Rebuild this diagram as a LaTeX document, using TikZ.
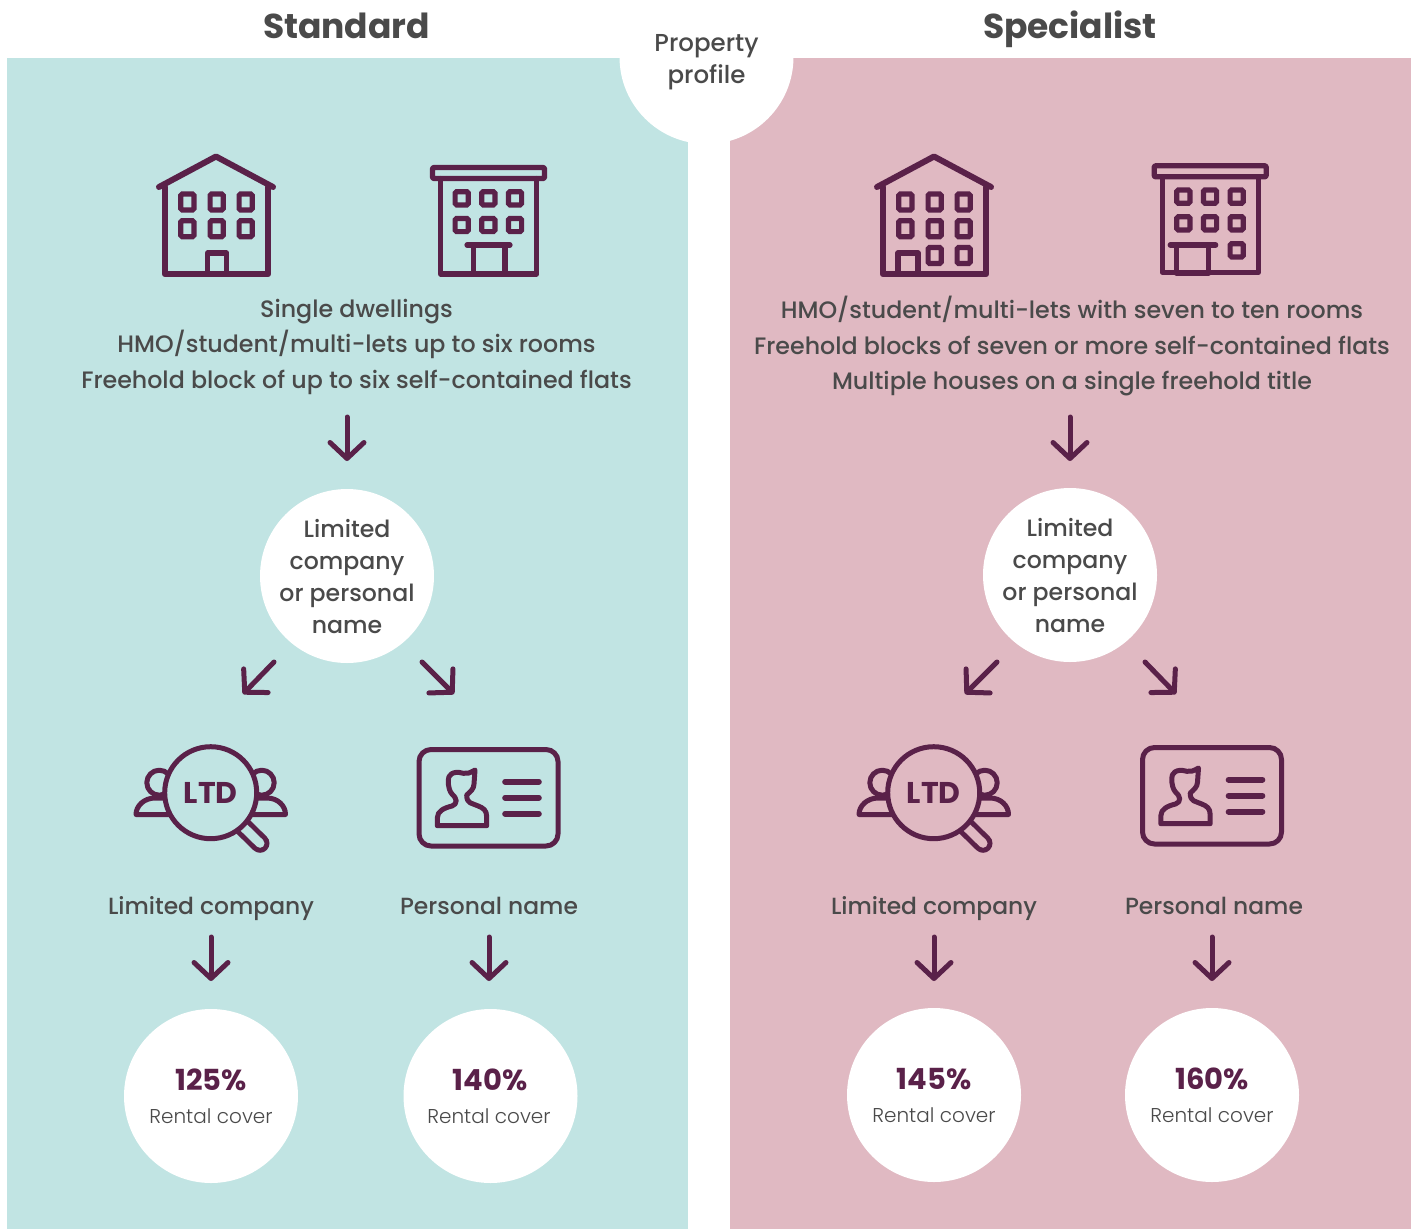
\documentclass[tikz,border=0pt]{standalone}
\usepackage{fontspec}
\setmainfont{Poppins}
\newfontfamily\fmed{Poppins Medium}
\newfontfamily\freg{Poppins Light}
\usetikzlibrary{arrows.meta}
\definecolor{teal}{HTML}{C1E4E3}
\definecolor{pinkbg}{HTML}{E0B9C2}
\definecolor{plum}{HTML}{5A2149}
\definecolor{ink}{HTML}{4A4A4A}
\tikzset{
 x=1pt,y=-1pt,
 icon/.style={draw=plum,line width=5.2pt,line join=round,line cap=round},
 win/.style={draw=plum,line width=5.2pt,rounded corners=1.5pt},
 arr/.style={draw=plum,line width=5pt,line cap=round,line join=round,-{Straight Barb[length=16pt,width=34pt,line width=5pt,round]}},
 whitedisc/.style={circle,fill=white,minimum size=174pt,inner sep=0pt},
 title/.style={font=\fontsize{34.5}{40}\selectfont\bfseries,text=ink,anchor=base},
 body/.style={font=\fontsize{23.75}{35.5}\selectfont\fmed,text=ink,align=center},
 lab/.style={font=\fontsize{23.4}{30}\selectfont\fmed,text=ink,anchor=base},
 disc/.style={font=\fontsize{23.6}{32}\selectfont\fmed,text=ink,align=center},
 pct/.style={font=\fontsize{29}{32}\selectfont\bfseries,text=plum},
 small/.style={font=\fontsize{20}{24}\selectfont\freg,text=ink},
 ltd/.style={font=\fontsize{30}{32}\selectfont\bfseries,text=plum,inner sep=0pt},
}
\newcommand{\winat}[2]{\draw[win] ({#1-6.6},{#2-6.6}) rectangle ({#1+6.6},{#2+6.6});}
\newcommand{\tallwin}[2]{\draw[win] ({#1-6.6},{#2-8}) rectangle ({#1+6.6},{#2+8});}
\newcommand{\houseicon}{%
 \draw[icon,line width=6pt] (159,187) -- (216,156.5) -- (273,187);
 \draw[icon,line width=6.4pt] (165,187) -- (165,274) -- (268,274) -- (268,187);
 \foreach \xx in {187.3,216.7,245.7}{\foreach \yy in {202,228.7}{\tallwin{\xx}{\yy}}}
}
\newcommand{\blockicon}{%
 \draw[icon,rounded corners=1pt] (432.5,167.5) rectangle (544.5,178.5);
 \draw[icon] (440.7,178.5) -- (440.7,274) -- (536.7,274) -- (536.7,178.5);
 \foreach \xx in {461.7,488.3,515}{\foreach \yy in {198.3,225}{\winat{\xx}{\yy}}}
}
\newcommand{\ltdicon}[1]{%
 \draw[plum,line width=19pt,line cap=round] (243,826.7) -- (260,843.3);
 \draw[#1,line width=9pt,line cap=round] (243,826.7) -- (260,843.3);
 \draw[icon,line width=5pt] (159.3,782.7) circle (12.5);
 \draw[icon,line width=5pt] (261.7,782.7) circle (12.5);
 \draw[icon,line width=5pt] (180,798) -- (155,798) .. controls (144,798) and (136,806) .. (136,814.5) -- (180,814.5);
 \draw[icon,line width=5pt] (240,798) -- (267,798) .. controls (278,798) and (285.5,806) .. (285.5,814.5) -- (240,814.5);
 \draw[icon,line width=5pt,fill=#1] (210.7,792.7) circle (46);
}
\newcommand{\cardicon}{%
 \draw[icon,line width=5pt,rounded corners=12pt] (419,749.5) rectangle (558,846);
 \foreach \yy in {781.7,797.7,813.7}{\draw[plum,line width=5.6pt,line cap=round] (505,\yy) -- (539,\yy);}
 \draw[icon,line width=5pt] (437.3,825.7) -- (486.7,825.7) -- (486.7,816.7)
   .. controls (486.7,810) and (483,808) .. (478.3,806)
   .. controls (472,803) and (466.7,804) .. (466.7,795)
   .. controls (470,792) and (474,789) .. (474,784)
   -- (475,770) .. controls (470,773) and (467,774) .. (463.3,773.3)
   .. controls (452,770) and (448,776) .. (448.3,780)
   .. controls (448,787) and (450,792) .. (452,794)
   .. controls (457,798) and (458,804) .. (452,806)
   .. controls (444,808) and (437.3,811) .. (437.3,818) -- cycle;
}
\begin{document}
\begin{tikzpicture}
\useasboundingbox (0,0) rectangle (1416,1229);
\fill[white] (0,0) rectangle (1416,1229);
\fill[teal] (7,58) rectangle (688,1229);
\fill[pinkbg] (730,58) rectangle (1411,1229);
\node[whitedisc] (hub) at (706.5,57) {};
\node[disc,font=\fontsize{24.5}{32}\selectfont\fmed] (hubtext) at (706.5,62) {Property\\profile};
\node[title] (tstd) at (346.5,38) {Standard};
\node[title] (tspc) at (1070,38) {Specialist};
% icons top
\houseicon
\draw[icon] (207.7,274) -- (207.7,253) -- (226.7,253) -- (226.7,274);
\blockicon
\draw[icon] (467,245) -- (510,245);
\draw[icon] (473.3,245) -- (473.3,274.5) -- (505,274.5) -- (505,245);
\begin{scope}[shift={(718,0)}]
 \houseicon
 \tallwin{216.7}{255.5}\tallwin{245.7}{255.5}
 \draw[icon] (180,274) -- (180,253) -- (200,253) -- (200,274);
\end{scope}
\begin{scope}[shift={(721.7,-1.7)}]
 \blockicon
 \winat{515}{252}
 \draw[icon] (448.5,246.7) -- (494,246.7);
 \draw[icon] (455,246.7) -- (455,275) -- (486.5,275) -- (486.5,246.7);
\end{scope}
% texts
\node[body] (lt) at (356.5,346.5) {Single dwellings\\HMO/student/multi-lets up to six rooms\\Freehold block of up to six self-contained flats};
\node[body] (rt) at (1072,346.5) {HMO/student/multi-lets with seven to ten rooms\\Freehold blocks of seven or more self-contained flats\\Multiple houses on a single freehold title};
% mid discs
\node[whitedisc] (lm) at (347,576) {};
\node[whitedisc] (rm) at (1070,575) {};
\node[disc] (lmt) at (347,577) {Limited\\company\\or personal\\name};
\node[disc] (rmt) at (1070,576) {Limited\\company\\or personal\\name};
% icons bottom
\ltdicon{teal}
\node[ltd] (ltdA) at (210.7,793) {LTD};
\cardicon
\begin{scope}[shift={(723,0)}]
 \ltdicon{pinkbg}
 \node[ltd] (ltdB) at (210.7,793) {LTD};
\end{scope}
\begin{scope}[shift={(723.5,-2)}]
 \cardicon
\end{scope}
% labels
\node[lab] (l1) at (211,914) {Limited company};
\node[lab] (l2) at (489,914) {Personal name};
\node[lab] (l3) at (934,914) {Limited company};
\node[lab] (l4) at (1214,914) {Personal name};
% result discs
\node[whitedisc] (d1) at (211,1096) {};
\node[whitedisc] (d2) at (490.5,1096) {};
\node[whitedisc] (d3) at (934,1095) {};
\node[whitedisc] (d4) at (1212,1095) {};
\node[pct] (p1) at (211,1080) {125\%};
\node[pct] (p2) at (490,1080) {140\%};
\node[pct] (p3) at (934,1079) {145\%};
\node[pct] (p4) at (1212,1079) {160\%};
\node[small] (s1) at (211,1116) {Rental cover};
\node[small] (s2) at (489,1116) {Rental cover};
\node[small] (s3) at (934,1115) {Rental cover};
\node[small] (s4) at (1212,1115) {Rental cover};
% connector ends
\coordinate (a1s) at (347,417); \coordinate (a1e) at (347,461);
\coordinate (a2s) at (274,662); \coordinate (a2e) at (243,694);
\coordinate (a3s) at (422,662); \coordinate (a3e) at (454,694);
\coordinate (a4s) at (211,937); \coordinate (a4e) at (211,981);
\coordinate (a5s) at (489,937); \coordinate (a5e) at (489,981);
\coordinate (b1s) at (1070,417); \coordinate (b1e) at (1070,461);
\coordinate (b2s) at (997,662); \coordinate (b2e) at (965,694);
\coordinate (b3s) at (1145,662); \coordinate (b3e) at (1176,694);
\coordinate (b4s) at (934,937); \coordinate (b4e) at (934,981);
\coordinate (b5s) at (1212,937); \coordinate (b5e) at (1212,981);
\foreach \p in {a1,a2,a3,a4,a5,b1,b2,b3,b4,b5}{\draw[arr] (\p s) -- (\p e);}
\end{tikzpicture}
\end{document}
